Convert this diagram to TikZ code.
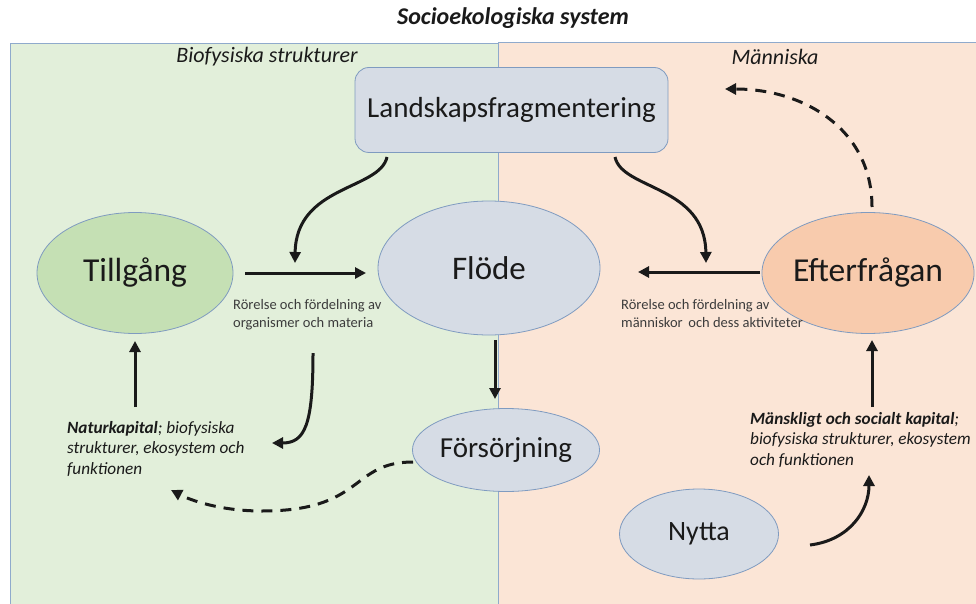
\documentclass[tikz,border=0pt]{standalone}
\usepackage{fontspec}
\setmainfont{Carlito}
\usetikzlibrary{arrows.meta,shapes.geometric}
\definecolor{greenbg}{HTML}{E2EFDA}
\definecolor{peachbg}{HTML}{FBE5D6}
\definecolor{panelborder}{HTML}{8FAACC}
\definecolor{bluegrey}{HTML}{D6DCE5}
\definecolor{greenfill}{HTML}{C5E0B4}
\definecolor{orangefill}{HTML}{F8CBAD}
\definecolor{nodeborder}{HTML}{7F9BC0}
\definecolor{txt}{HTML}{1A1A1A}
\tikzset{
  bubble/.style={ellipse, draw=nodeborder, line width=0.8pt, inner sep=0pt, text=txt},
  arr/.style={line width=3pt, draw=txt, -{Triangle[length=11pt,width=11pt]}},
  dasharr/.style={arr, dash pattern=on 11pt off 8pt},
  smalltxt/.style={font=\fontsize{14.5}{18}\selectfont, text=txt!85, align=left, inner sep=0pt},
  captxt/.style={font=\fontsize{17.2}{20.5}\selectfont\itshape, text=txt, align=left, inner sep=0pt},
}
\begin{document}
\begin{tikzpicture}[x=1pt,y=-1pt]
\useasboundingbox (0,0) rectangle (976,604);
\fill[white] (0,0) rectangle (976,604);
% panels
\draw[fill=greenbg, draw=panelborder, line width=0.8pt] (10,43) rectangle (498,610);
\draw[fill=peachbg, draw=panelborder, line width=0.8pt] (498,42) rectangle (982,610);
% titles
\node[font=\fontsize{24}{28}\selectfont\bfseries\itshape, text=txt] (title) at (513,18) {Socioekologiska system};
\node[font=\fontsize{22}{26}\selectfont\itshape, text=txt] (biolabel) at (267,57) {Biofysiska strukturer};
\node[font=\fontsize{22}{26}\selectfont\itshape, text=txt] (manlabel) at (775,57) {Människa};
% nodes
\node[draw=nodeborder, fill=bluegrey, rounded corners=14pt, line width=0.8pt, minimum width=313pt, minimum height=85pt, font=\fontsize{29}{33}\selectfont, text=txt] (land) at (511.5,110) {Landskapsfragmentering};
\node[bubble, fill=greenfill, minimum width=196pt, minimum height=121pt, font=\fontsize{33.5}{38}\selectfont] (till) at (135,273) {Tillgång};
\node[bubble, fill=bluegrey, minimum width=222pt, minimum height=134pt, font=\fontsize{33}{38}\selectfont] (flode) at (489,268) {Flöde};
\node[bubble, fill=orangefill, minimum width=197pt, minimum height=121pt, font=\fontsize{33.5}{38}\selectfont] (efter) at (868,273) {Efterfrågan};
\node[bubble, fill=bluegrey, minimum width=187pt, minimum height=83pt, font=\fontsize{29}{33}\selectfont] (fors) at (506,450) {Försörjning};
\node[bubble, fill=bluegrey, minimum width=159pt, minimum height=90pt, font=\fontsize{28}{32}\selectfont] (nytta) at (699,534) {Nytta};
% small labels
\node[smalltxt, anchor=north west] (lblL) at (233,299) {Rörelse och fördelning av\\organismer och materia};
\node[smalltxt, anchor=north west] (lblR) at (621,299) {Rörelse och fördelning av\\människor\, och dess aktiviteter};
\node[captxt, anchor=north west] (natur) at (67,421) {\textbf{Naturkapital}; biofysiska\\strukturer, ekosystem och\\funktionen};
\node[captxt, anchor=north west] (mansk) at (750,412) {\textbf{Mänskligt och socialt kapital};\\biofysiska strukturer, ekosystem\\och funktionen};
% helper coordinates
\coordinate (a1s) at (245,273);
\coordinate (a1e) at (366,273);
\coordinate (a2s) at (760,272);
\coordinate (a2e) at (638,272);
\coordinate (c1s) at (387,157);
\coordinate (c1e) at (295,263);
\coordinate (c2s) at (615,157);
\coordinate (c2e) at (706,263);
\coordinate (v1s) at (495,340);
\coordinate (v1e) at (495,399);
\coordinate (v2s) at (135,407);
\coordinate (v2e) at (135,341);
\coordinate (c3s) at (313,353);
\coordinate (c3e) at (272,443);
\coordinate (d1s) at (413,462);
\coordinate (d1m) at (262,511);
\coordinate (d1e) at (171,490);
\coordinate (d2s) at (872,207);
\coordinate (d2e) at (725,89);
\coordinate (c4s) at (810,545);
\coordinate (c4e) at (869,475);
\coordinate (v3s) at (872,407);
\coordinate (v3e) at (872,340);
% arrows
\draw[arr] (a1s) -- (a1e);
\draw[arr] (a2s) -- (a2e);
\draw[arr] (c1s) .. controls (380,190) and (296,185) .. (c1e);
\draw[arr] (c2s) .. controls (622,190) and (705,185) .. (c2e);
\draw[arr] (v1s) -- (v1e);
\draw[arr] (v2s) -- (v2e);
\draw[arr] (c3s) .. controls (313,425) and (305,443) .. (c3e);
\draw[dasharr] (d1s) .. controls (350,462) and (365,511) .. (d1m) .. controls (220,511) and (190,500) .. (d1e);
\draw[dasharr] (d2s) .. controls (872,130) and (805,89) .. (d2e);
\draw[arr] (c4s) .. controls (850,540) and (869,510) .. (c4e);
\draw[arr] (v3s) -- (v3e);
\end{tikzpicture}
\end{document}
